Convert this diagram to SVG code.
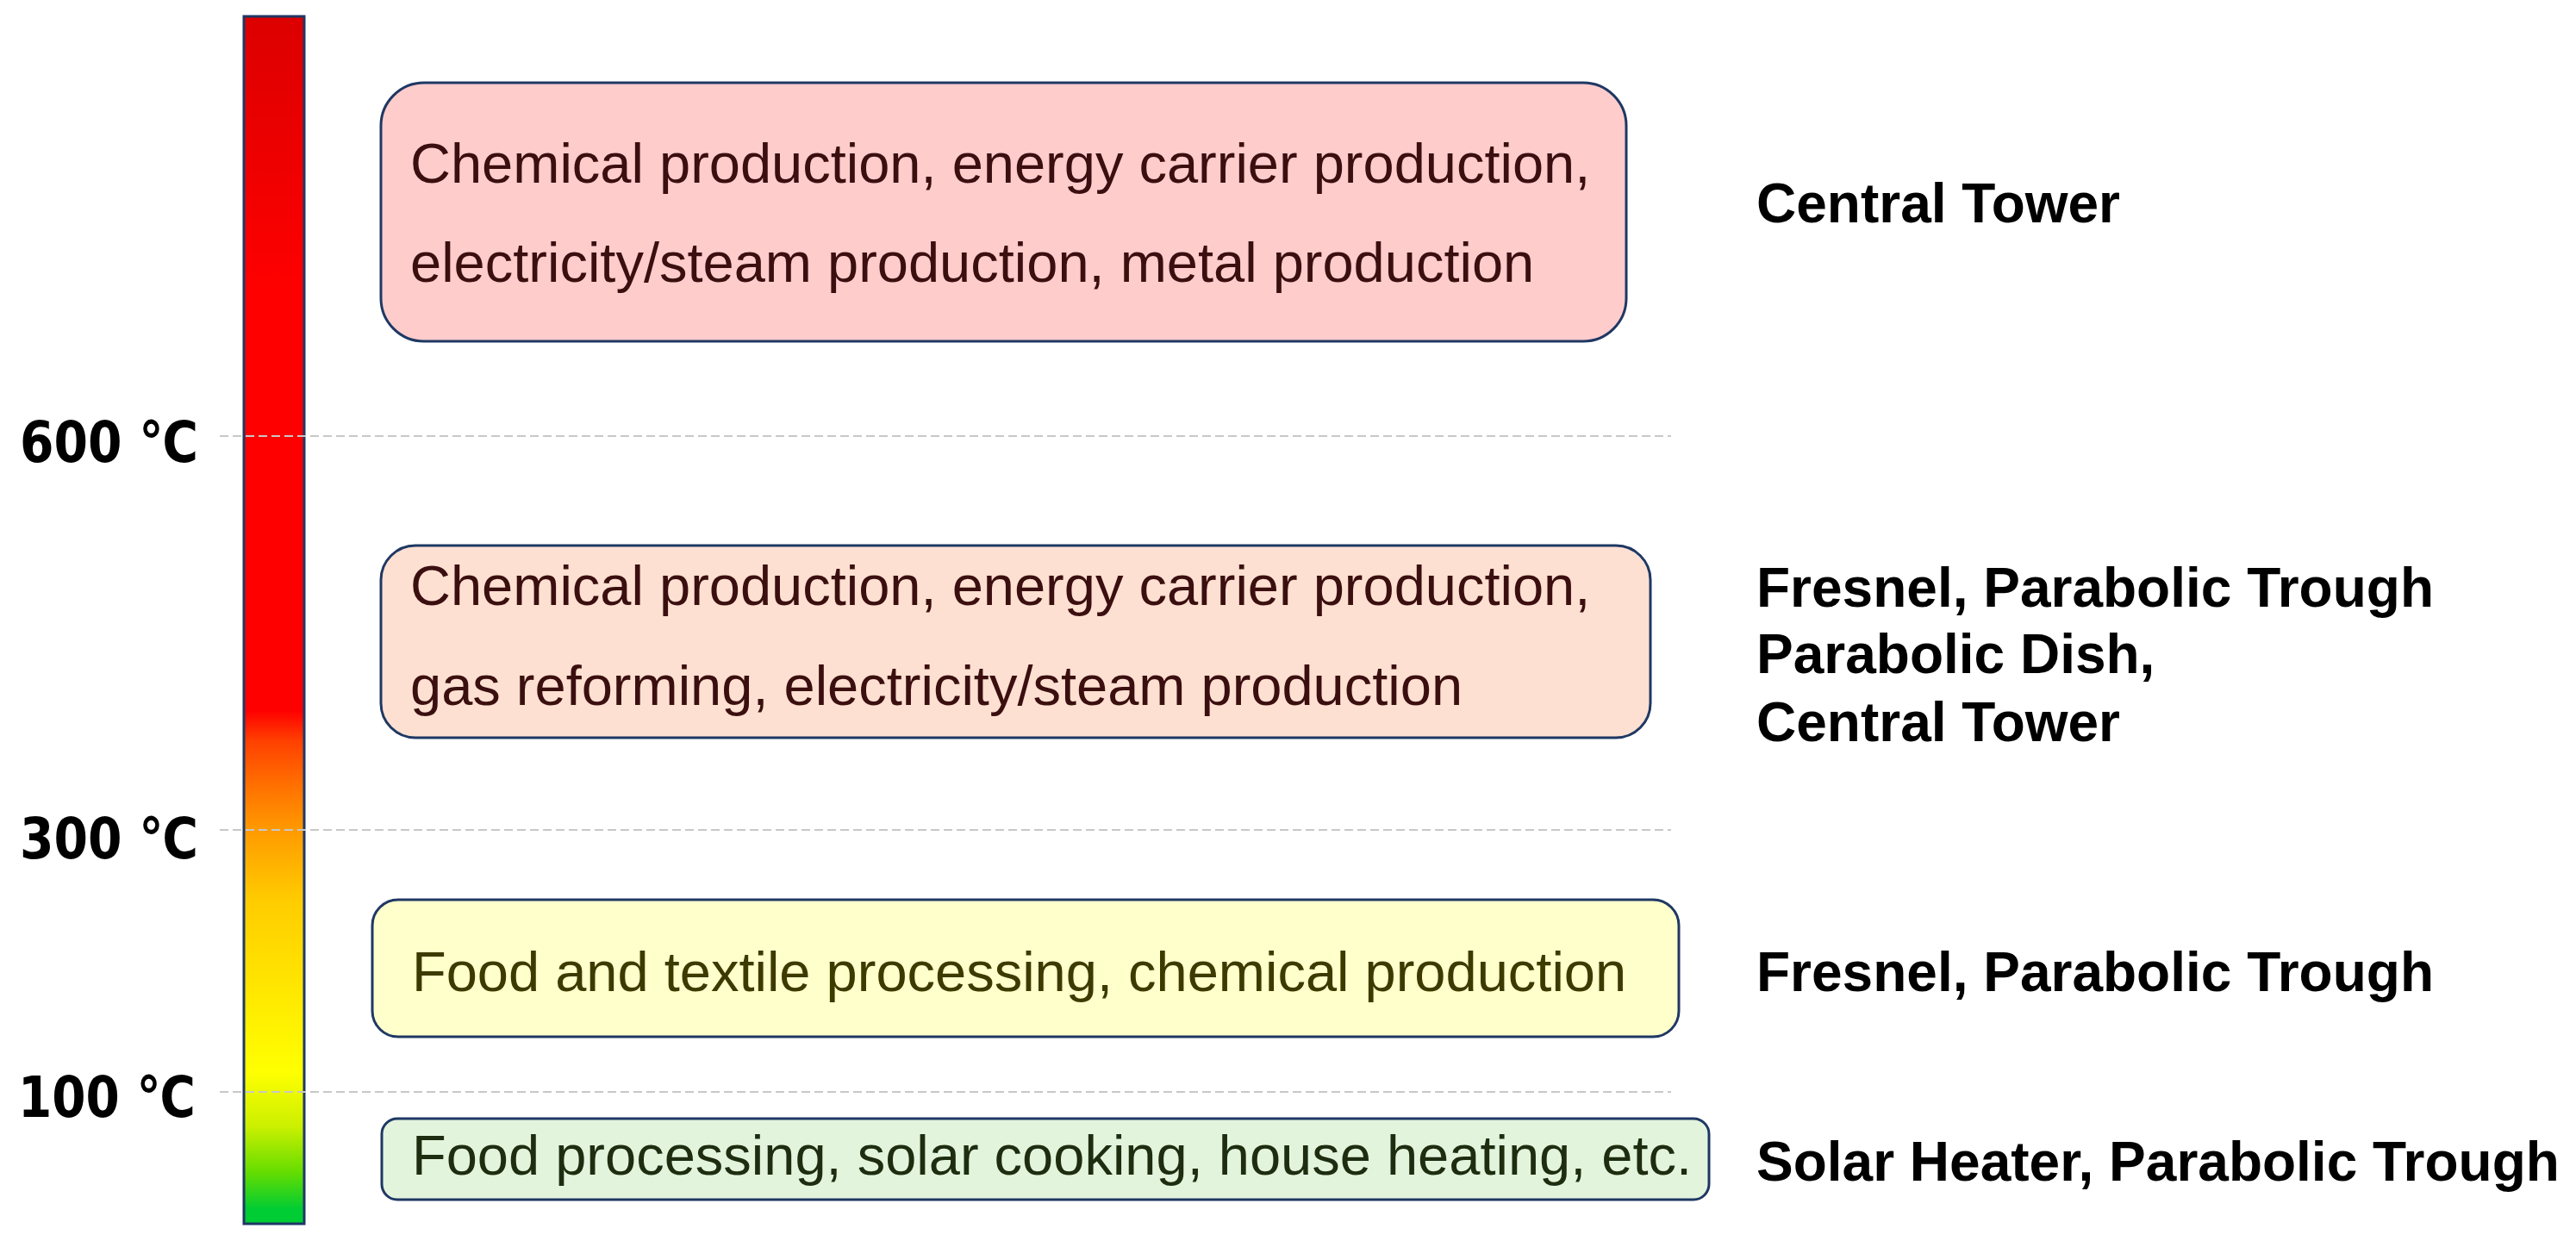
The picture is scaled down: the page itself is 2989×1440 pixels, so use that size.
<svg xmlns="http://www.w3.org/2000/svg" width="2989" height="1440" viewBox="0 0 2989 1440">
<defs>
<linearGradient id="temp" x1="0" y1="0" x2="0" y2="1">
<stop offset="0" stop-color="#dc0000"/>
<stop offset="0.232" stop-color="#ff0000"/>
<stop offset="0.575" stop-color="#ff0000"/>
<stop offset="0.600" stop-color="#ff4000"/>
<stop offset="0.637" stop-color="#ff7000"/>
<stop offset="0.674" stop-color="#ff9a00"/>
<stop offset="0.732" stop-color="#ffcc00"/>
<stop offset="0.778" stop-color="#ffdd00"/>
<stop offset="0.874" stop-color="#ffff00"/>
<stop offset="0.919" stop-color="#ccf000"/>
<stop offset="0.957" stop-color="#66dd00"/>
<stop offset="0.988" stop-color="#00cc33"/>
<stop offset="1" stop-color="#00cc33"/>
</linearGradient>
</defs>
<style>
.box{stroke:#1f3864;stroke-width:3}
.t{font-family:"Liberation Sans",Arial,sans-serif;font-size:65px}
.lab{font-family:"Liberation Sans",Arial,sans-serif;font-size:64px;font-weight:bold;fill:#000}
.deg{font-family:"DejaVu Sans",Verdana,sans-serif;font-size:66px;font-weight:bold;fill:#000}
.grid{stroke:#c8c8c8;stroke-width:2;stroke-dasharray:10 5;fill:none}
</style>
<rect width="2989" height="1440" fill="#ffffff"/>
<g id="scale">
<rect x="283" y="19" width="70" height="1401" fill="url(#temp)" stroke="#1f3864" stroke-width="3"/>
<text class="deg" x="23" y="536" textLength="207" lengthAdjust="spacingAndGlyphs">600 ℃</text>
<text class="deg" x="23" y="996" textLength="207" lengthAdjust="spacingAndGlyphs">300 ℃</text>
<text class="deg" x="21" y="1296" textLength="206" lengthAdjust="spacingAndGlyphs">100 ℃</text>
</g>
<g id="connectors">
<line class="grid" x1="255" y1="506" x2="1939" y2="506"/>
<line class="grid" x1="255" y1="963" x2="1939" y2="963"/>
<line class="grid" x1="255" y1="1267" x2="1939" y2="1267"/>
</g>
<g id="box-high">
<rect class="box" x="442" y="96" width="1445" height="300" rx="50" fill="#ffcccc"/>
<text class="t" x="476" y="212" fill="#3b0f0f">Chemical production, energy carrier production,</text>
<text class="t" x="476" y="327" fill="#3b0f0f">electricity/steam production, metal production</text>
</g>
<g id="box-mid">
<rect class="box" x="442" y="633" width="1473" height="223" rx="40" fill="#fde0d2"/>
<text class="t" x="476" y="702" fill="#3b0f0f">Chemical production, energy carrier production,</text>
<text class="t" x="476" y="818" fill="#3b0f0f">gas reforming, electricity/steam production</text>
</g>
<g id="box-low">
<rect class="box" x="432" y="1044" width="1516" height="159" rx="30" fill="#ffffcc"/>
<text class="t" x="478" y="1150" fill="#3d3a00">Food and textile processing, chemical production</text>
</g>
<g id="box-lowest">
<rect class="box" x="443" y="1298" width="1540" height="94" rx="18" fill="#e2f4dc"/>
<text class="t" x="478" y="1363" fill="#1e2d10">Food processing, solar cooking, house heating, etc.</text>
</g>
<g id="tech-high">
<text class="lab" x="2038" y="258">Central Tower</text>
</g>
<g id="tech-mid">
<text class="lab" x="2038" y="704">Fresnel, Parabolic Trough</text>
<text class="lab" x="2038" y="781">Parabolic Dish,</text>
<text class="lab" x="2038" y="860">Central Tower</text>
</g>
<g id="tech-low">
<text class="lab" x="2038" y="1150">Fresnel, Parabolic Trough</text>
</g>
<g id="tech-lowest">
<text class="lab" x="2038" y="1370">Solar Heater, Parabolic Trough</text>
</g>
</svg>
